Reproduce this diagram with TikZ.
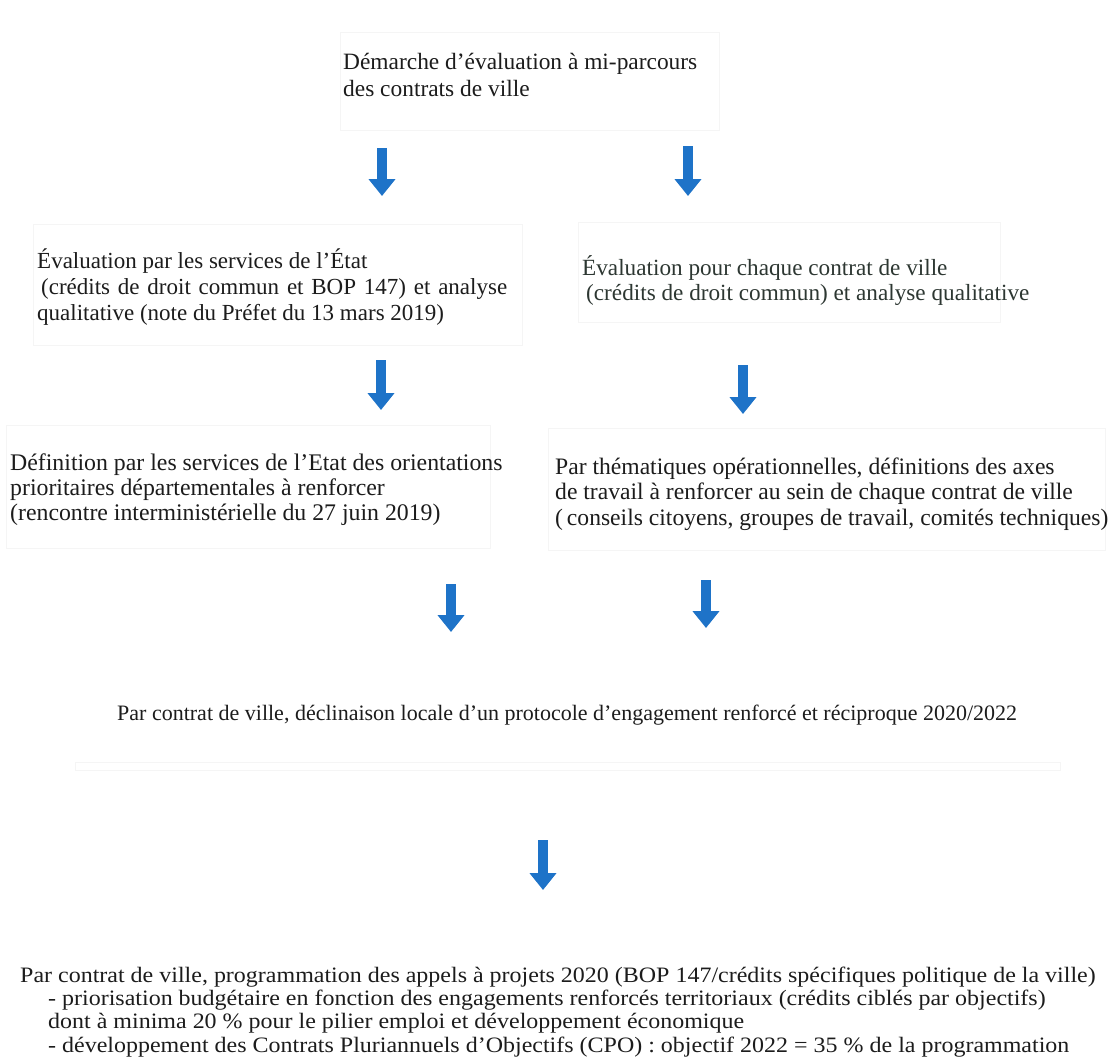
\documentclass[tikz,border=0pt]{standalone}
\usepackage{fontspec}
\setmainfont{Liberation Serif}
\newfontfamily\widefont[FakeStretch=1.09]{Liberation Serif}
\usetikzlibrary{arrows.meta}
\definecolor{arrowblue}{RGB}{30,115,200}
\definecolor{textgray}{RGB}{28,28,28}
\definecolor{textgreen}{RGB}{45,55,50}
\begin{document}
\begin{tikzpicture}[x=1pt,y=-1pt,
  txt/.style={anchor=base west, inner sep=0pt, align=left, text=textgray},
  flow/.style={line width=9.5pt, draw=arrowblue, -{Triangle[width=26pt,length=17pt]}},
  faint/.style={draw=black!4, line width=1pt}]
\useasboundingbox[fill=white] (0,0) rectangle (1110,1058);
% faint frames
\draw[faint] (340,32) rectangle (719,130);
\draw[faint] (33,224) rectangle (522,345);
\draw[faint] (578,222) rectangle (1000,322);
\draw[faint] (6,425) rectangle (490,548);
\draw[faint] (548,428) rectangle (1105,550);
\draw[faint] (75,762) rectangle (1060,770);
% texts (anchor = baseline of the last line)
\node[txt,font=\fontsize{23.4}{27}\selectfont] (n1) at (343,96) {Démarche d’évaluation à mi-parcours\\des contrats de ville};
\node[txt,font=\fontsize{23}{26}\selectfont] (n2l) at (37,320) {Évaluation par les services de l’État\\\hspace*{4pt}\makebox[466pt][s]{(crédits de droit commun et BOP 147) et analyse}\\qualitative (note du Préfet du 13 mars 2019)};
\node[txt,text=textgreen,font=\fontsize{23.2}{25}\selectfont] (n2r) at (582,300) {Évaluation pour chaque contrat de ville\\\hspace*{4pt}(crédits de droit commun) et analyse qualitative};
\node[txt,font=\fontsize{23.8}{25}\selectfont] (n3l) at (10,520) {Définition par les services de l’Etat des orientations\\prioritaires départementales à renforcer\\(rencontre interministérielle du 27 juin 2019)};
\node[txt,font=\fontsize{23.6}{25.5}\selectfont] (n3r) at (555,525) {Par thématiques opérationnelles, définitions des axes\\de travail à renforcer au sein de chaque contrat de ville\\(\,conseils citoyens, groupes de travail, comités techniques)};
\node[txt,font=\fontsize{22}{25}\selectfont] (n4) at (117,720) {Par contrat de ville, déclinaison locale d’un protocole d’engagement renforcé et réciproque 2020/2022};
\node[txt,font=\widefont\fontsize{22}{23.3}\selectfont] (n5) at (20,1052) {Par contrat de ville, programmation des appels à projets 2020 (BOP 147/crédits spécifiques politique de la ville)\\\hspace*{28pt}- priorisation budgétaire en fonction des engagements renforcés territoriaux (crédits ciblés par objectifs)\\\hspace*{28pt}dont à minima 20 \% pour le pilier emploi et développement économique\\\hspace*{28pt}- développement des Contrats Pluriannuels d’Objectifs (CPO) : objectif 2022 = 35 \% de la programmation};
% arrow coordinates
\coordinate (a1s) at (382,148); \coordinate (a1e) at (382,196);
\coordinate (a2s) at (688,146); \coordinate (a2e) at (688,196);
\coordinate (a3s) at (381,360); \coordinate (a3e) at (381,410);
\coordinate (a4s) at (743,365); \coordinate (a4e) at (743,414);
\coordinate (a5s) at (451,584); \coordinate (a5e) at (451,632);
\coordinate (a6s) at (706,580); \coordinate (a6e) at (706,628);
\coordinate (a7s) at (543,840); \coordinate (a7e) at (543,890);
\draw[flow] (a1s) -- (a1e);
\draw[flow] (a2s) -- (a2e);
\draw[flow] (a3s) -- (a3e);
\draw[flow] (a4s) -- (a4e);
\draw[flow] (a5s) -- (a5e);
\draw[flow] (a6s) -- (a6e);
\draw[flow] (a7s) -- (a7e);
\end{tikzpicture}
\end{document}
